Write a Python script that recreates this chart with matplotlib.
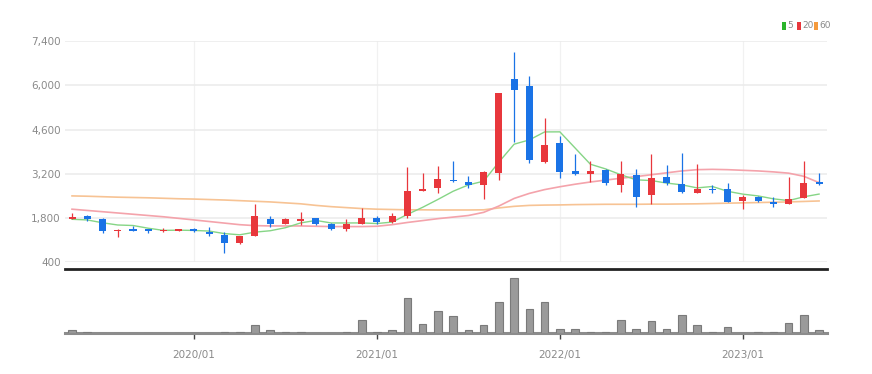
import matplotlib
matplotlib.use("Agg")
import matplotlib.pyplot as plt
from matplotlib.patches import Rectangle
import numpy as np
import pandas as pd

plt.rcParams['font.family'] = ['Liberation Sans Narrow', 'DejaVu Sans']

# ---- data (monthly) ----
months = pd.date_range('2019-05-01', periods=50, freq='MS')
month_labels = [d.strftime('%Y/%m') for d in months]

opens = [1770, 1850, 1760, 1380, 1440, 1440, 1380, 1400, 1430, 1370,
         1260, 1000, 1240, 1760, 1610, 1700, 1790, 1600, 1460, 1620,
         1810, 1660, 1880, 2670, 2740, 3010, 2930, 2850, 3220, 6200,
         5990, 3560, 4170, 3300, 3200, 3320, 2830, 3150, 2530, 3090,
         2870, 2600, 2730, 2730, 2340, 2450, 2320, 2250, 2430, 2950]
highs = [1970, 1900, 1800, 1440, 1550, 1450, 1480, 1450, 1500, 1510,
         1370, 1240, 2240, 1870, 1800, 2000, 1800, 1640, 1760, 2120,
         1870, 1950, 3400, 3220, 3460, 3620, 3140, 3280, 5760, 7040,
         6300, 4960, 4380, 3830, 3590, 3360, 3600, 3360, 3820, 3480,
         3850, 3500, 2850, 2920, 2530, 2510, 2480, 3110, 3590, 3240]
lows = [1760, 1720, 1340, 1210, 1390, 1340, 1370, 1390, 1350, 1240,
        700, 990, 1230, 1530, 1600, 1590, 1580, 1420, 1400, 1600,
        1620, 1640, 1800, 2660, 2600, 2950, 2750, 2400, 3000, 4190,
        3550, 3550, 3060, 3170, 2950, 2840, 2620, 2160, 2240, 2840,
        2590, 2590, 2590, 2310, 2080, 2300, 2140, 2240, 2420, 2850]
closes = [1830, 1760, 1400, 1430, 1400, 1400, 1420, 1430, 1390, 1300,
          1000, 1230, 1850, 1610, 1780, 1760, 1620, 1450, 1610, 1790,
          1660, 1850, 2670, 2730, 3030, 2960, 2850, 3260, 5750, 5860,
          3640, 4110, 3270, 3190, 3300, 2900, 3190, 2460, 3080, 2900,
          2620, 2710, 2680, 2320, 2450, 2340, 2250, 2400, 2920, 2880]
ma5 = [1760, 1740, 1650, 1580, 1564, 1478, 1410, 1416, 1408, 1388,
       1308, 1270, 1354, 1398, 1494, 1646, 1724, 1644, 1644, 1646,
       1626, 1672, 1916, 2140, 2388, 2648, 2848, 2966, 3570, 4136,
       4272, 4524, 4526, 4014, 3502, 3354, 3170, 3008, 2986, 2906,
       2850, 2754, 2798, 2646, 2556, 2500, 2408, 2352, 2472, 2558]
ma20 = [2080, 2040, 2000, 1960, 1920, 1880, 1840, 1790, 1740, 1690,
        1640, 1590, 1560, 1550, 1550, 1550, 1540, 1530, 1530, 1530,
        1540, 1590, 1660, 1720, 1780, 1830, 1880, 1980, 2180, 2420,
        2580, 2700, 2790, 2870, 2940, 3000, 3060, 3110, 3170, 3230,
        3290, 3330, 3340, 3330, 3310, 3290, 3260, 3220, 3120, 2920]
ma60 = [2500, 2490, 2475, 2460, 2450, 2440, 2425, 2410, 2400, 2385,
        2370, 2350, 2330, 2310, 2280, 2250, 2200, 2160, 2130, 2100,
        2080, 2070, 2060, 2060, 2055, 2055, 2055, 2060, 2120, 2170,
        2200, 2210, 2215, 2225, 2230, 2235, 2235, 2235, 2240, 2240,
        2245, 2250, 2260, 2270, 2280, 2290, 2300, 2310, 2325, 2340]
volumes = [33, 12, 0, 0, 0, 0, 0, 0, 0, 0,
           10, 10, 77, 33, 10, 10, 0, 0, 10, 127,
           10, 27, 353, 93, 217, 167, 27, 77, 310, 554,
           244, 310, 44, 44, 10, 10, 133, 44, 117, 44,
           177, 84, 10, 60, 5, 10, 10, 100, 177, 34]
price_ticks = [400, 1800, 3200, 4600, 6000, 7400]
legend_labels = ['5', '20', '60']

# ---- style ----
UP = '#e8373c'
DOWN = '#1a73e6'
C5, C20, C60 = '#86d586', '#f4a3ab', '#f7c394'
GRID = '#f1f1f1'
TXT = '#8a8a8a'

W, H = 872, 374
fig = plt.figure(figsize=(W / 100, H / 100), dpi=100)
fig.patch.set_facecolor('white')

x = np.arange(len(closes))
o = np.array(opens, float); c = np.array(closes, float)
hi = np.array(highs, float); lo = np.array(lows, float)

ax = fig.add_axes([65 / W, 1 - 262.3 / H, 762 / W, (262.3 - 41) / H])
ax.set_xlim(-0.46, len(x) - 0.48)
ax.set_ylim(400, 7400)
ax.set_yticks(price_ticks)
ax.set_yticklabels([f'{v:,}' for v in price_ticks], color=TXT, fontsize=7.5)
ax.tick_params(axis='y', length=0, pad=3)
jan = [i for i, lab in enumerate(month_labels) if lab.endswith('/01')]
ax.set_xticks(jan)
ax.set_xticklabels([])
ax.tick_params(axis='x', length=0)
ax.grid(True, axis='y', color='#ececec', linewidth=1.2)
ax.grid(True, axis='x', color=GRID, linewidth=0.9)
ax.set_axisbelow(True)
for s in ax.spines.values():
    s.set_visible(False)

colors = [UP if cc >= oo else DOWN for oo, cc in zip(o, c)]
ax.plot(x, ma60, color=C60, lw=1.2, zorder=2)
ax.plot(x, ma20, color=C20, lw=1.2, zorder=2)
ax.plot(x, ma5, color=C5, lw=1.0, zorder=2)
ax.vlines(x, lo, hi, colors=colors, lw=0.9, zorder=3)
body_bottom = np.minimum(o, c)
body_h = np.maximum(np.abs(c - o), 50)
ax.bar(x, body_h, bottom=body_bottom, width=0.46, color=colors, zorder=4, linewidth=0)

# ---- volume ----
vax = fig.add_axes([65 / W, 1 - 333 / H, 762 / W, (333 - 269) / H])
vax.set_xlim(ax.get_xlim())
vax.set_ylim(0, 640)
vax.bar(x, volumes, width=0.5, color='#9a9a9a', edgecolor='#7a7a7a', linewidth=0.8, zorder=3)
vax.set_yticks([])
vax.set_xticks(jan)
vax.set_xticklabels([month_labels[i] for i in jan], color=TXT, fontsize=7.5)
vax.tick_params(axis='x', length=4, width=1, color='#444444', pad=8, direction='out')
for s in ['left', 'right']:
    vax.spines[s].set_visible(False)
vax.spines['top'].set_color('#222222')
vax.spines['top'].set_linewidth(2)
vax.spines['bottom'].set_color('#8c8c8c')
vax.spines['bottom'].set_linewidth(2.2)
vax.patch.set_alpha(0)

# ---- legend (top right) ----
leg_x = [782, 797, 814]
for lx, lab, col in zip(leg_x, legend_labels, ['#2bb52b', '#e8373c', '#f59a3c']):
    fig.add_artist(Rectangle((lx / W, 1 - 30 / H), 4 / W, 8 / H, transform=fig.transFigure,
                             facecolor=col, edgecolor='none'))
    fig.text((lx + 5) / W, 1 - 26 / H, lab, color=TXT, fontsize=6.5, va='center', ha='left')

fig.savefig('out.png', dpi=100, facecolor='white')
